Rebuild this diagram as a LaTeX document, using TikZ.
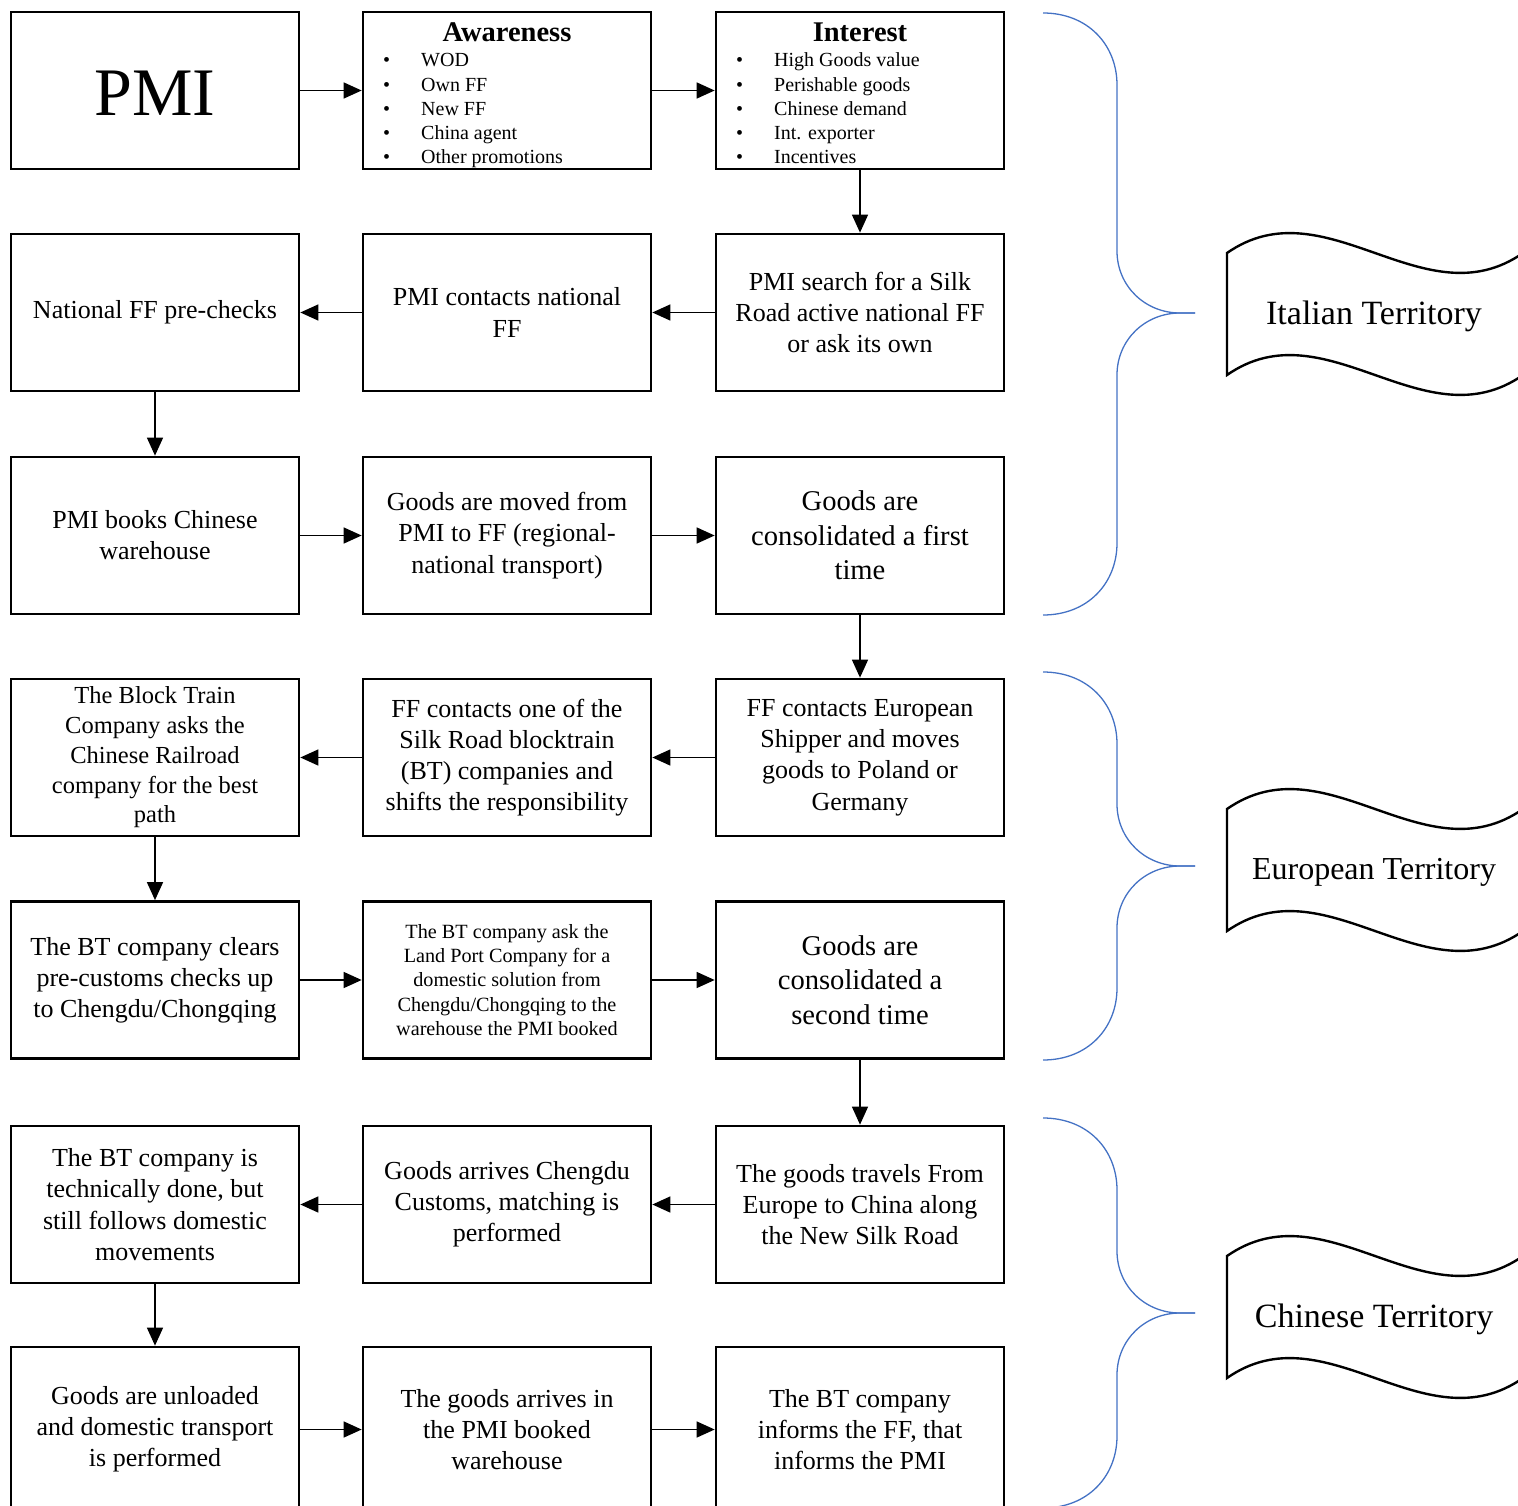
\documentclass[tikz,border=0pt]{standalone}
\usepackage{fontspec}
\setmainfont{Liberation Serif}
\usetikzlibrary{arrows.meta}
\definecolor{bracecol}{RGB}{68,114,196}
\begin{document}
\begin{tikzpicture}[x=1pt,y=-1pt,
  box/.style={draw, line width=2.7pt, minimum width=288pt, minimum height=157pt,
    inner sep=0pt, align=center, font=\fontsize{26}{31.2}\selectfont},
  bigtxt/.style={font=\fontsize{28.6}{34.4}\selectfont},
  smalltxt/.style={font=\fontsize{20.2}{24.25}\selectfont},
  midtxt/.style={font=\fontsize{24.5}{29.7}\selectfont},
  flow/.style={line width=1.4pt, -{Triangle[length=18pt,width=16pt]}},
  brace/.style={draw=bracecol, line width=1.3pt},
  wave/.style={draw, line width=2.4pt, fill=white},
  banner/.style={font=\fontsize{34}{40}\selectfont},
  title/.style={font=\fontsize{28.5}{34}\selectfont\bfseries},
  bullets/.style={font=\fontsize{20}{24.3}\selectfont, inner sep=0pt, anchor=west}
]
\useasboundingbox (0,0) rectangle (1518,1506);

% ---------- row 1 ----------
\node[box] (pmi) at (155,90.5) {};
\node[font=\fontsize{68}{80}\selectfont] (pmilabel) at (155,93) {PMI};
\node[box] (aware) at (507,90.5) {};
\node[title] (awaretitle) at (507,32) {Awareness};
\node[bullets] (awarelist) at (383,110.5) {\begin{tabular}{@{}p{38pt}@{}l@{}}
\textbullet & WOD\\ \textbullet & Own FF\\ \textbullet & New FF\\
\textbullet & China agent\\ \textbullet & Other promotions\end{tabular}};
\node[box] (interest) at (860,90.5) {};
\node[title] (interesttitle) at (860,32) {Interest};
\node[bullets] (interestlist) at (736,110.5) {\begin{tabular}{@{}p{38pt}@{}l@{}}
\textbullet & High Goods value\\ \textbullet & Perishable goods\\ \textbullet & Chinese demand\\
\textbullet & Int. exporter\\ \textbullet & Incentives\end{tabular}};

% ---------- row 2 ----------
\node[box] (prechecks) at (155,312.5) {National FF pre-checks};
\node[box] (contacts) at (507,312.5) {PMI contacts national\\FF};
\node[box] (search) at (860,312.5) {PMI search for a Silk\\Road active national FF\\or ask its own};

% ---------- row 3 ----------
\node[box] (books) at (155,535.5) {PMI books Chinese\\warehouse};
\node[box] (moved) at (507,535.5) {Goods are moved from\\PMI to FF (regional-\\national transport)};
\node[box, bigtxt] (consfirst) at (860,535.5) {Goods are\\consolidated a first\\time};

% ---------- row 4 ----------
\node[box, midtxt] (btrail) at (155,757.5) {The Block Train\\Company asks the\\Chinese Railroad\\company for the best\\path};
\node[box] (ffbt) at (507,757.5) {FF contacts one of the\\Silk Road blocktrain\\(BT) companies and\\shifts the responsibility};
\node[box] (ffeu) at (860,757.5) {FF contacts European\\Shipper and moves\\goods to Poland or\\Germany};

% ---------- row 5 ----------
\node[box] (clears) at (155,980) {The BT company clears\\pre-customs checks up\\to Chengdu/Chongqing};
\node[box, smalltxt] (landport) at (507,980) {The BT company ask the\\Land Port Company for a\\domestic solution from\\Chengdu/Chongqing to the\\warehouse the PMI booked};
\node[box, bigtxt] (conssecond) at (860,980) {Goods are\\consolidated a\\second time};

% ---------- row 6 ----------
\node[box] (btdone) at (155,1204.5) {The BT company is\\technically done, but\\still follows domestic\\movements};
\node[box] (arrives) at (507,1204.5) {Goods arrives Chengdu\\Customs, matching is\\performed};
\node[box] (travels) at (860,1204.5) {The goods travels From\\Europe to China along\\the New Silk Road};

% ---------- row 7 ----------
\node[box, minimum height=165pt] (unloaded) at (155,1429.5) {Goods are unloaded\\and domestic transport\\is performed};
\node[box, minimum height=165pt] (arriveswh) at (507,1429.5) {The goods arrives in\\the PMI booked\\warehouse};
\node[box, minimum height=165pt] (informs) at (860,1429.5) {The BT company\\informs the FF, that\\informs the PMI};

% ---------- connectors ----------
\draw[flow] (pmi) -- (aware);
\draw[flow] (aware) -- (interest);
\draw[flow] (interest) -- (search);
\draw[flow] (search) -- (contacts);
\draw[flow] (contacts) -- (prechecks);
\draw[flow] (prechecks) -- (books);
\draw[flow] (books) -- (moved);
\draw[flow] (moved) -- (consfirst);
\draw[flow] (consfirst) -- (ffeu);
\draw[flow] (ffeu) -- (ffbt);
\draw[flow] (ffbt) -- (btrail);
\draw[flow] (btrail) -- (clears);
\draw[flow] (clears) -- (landport);
\draw[flow] (landport) -- (conssecond);
\draw[flow] (conssecond) -- (travels);
\draw[flow] (travels) -- (arrives);
\draw[flow] (arrives) -- (btdone);
\draw[flow] (btdone) -- (unloaded);
\draw[flow] (unloaded) -- (arriveswh);
\draw[flow] (arriveswh) -- (informs);

% ---------- territory braces ----------
\foreach \T/\M/\B in {13/313/615, 672/866/1060, 1118/1313/1508}{
  \draw[brace] (1043,\T) .. controls (1088,\T) and (1117,\T+32) .. (1117,\T+72)
    -- (1117,\M-62) .. controls (1117,\M-27) and (1145,\M) .. (1180,\M) -- (1195,\M);
  \draw[brace] (1195,\M) -- (1180,\M) .. controls (1145,\M) and (1117,\M+27) .. (1117,\M+62)
    -- (1117,\B-72) .. controls (1117,\B-32) and (1088,\B) .. (1043,\B);
}

% ---------- territory banners ----------
\foreach \C in {314, 870, 1317}{
  \draw[wave] (1227,\C-61) .. controls (1326,\C-130) and (1424,\C+8) .. (1523,\C-61)
    -- (1523,\C+61) .. controls (1424,\C+130) and (1326,\C-8) .. (1227,\C+61) -- cycle;
}
\node[banner] (italian) at (1374,316) {Italian Territory};
\node[banner, font=\fontsize{32}{38}\selectfont] (european) at (1374,872) {European Territory};
\node[banner] (chinese) at (1374,1319) {Chinese Territory};
\end{tikzpicture}
\end{document}
